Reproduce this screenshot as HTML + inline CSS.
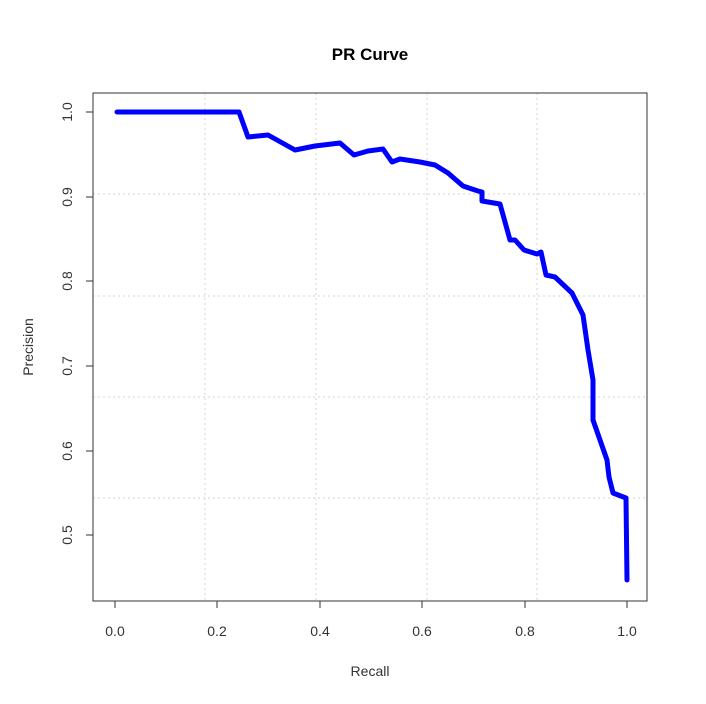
<!DOCTYPE html>
<html><head><style>body{margin:0;background:#fff}</style></head><body>
<svg width="706" height="699" xmlns="http://www.w3.org/2000/svg" font-family="Liberation Sans, sans-serif">
<rect width="706" height="699" fill="#fff"/>
<g stroke="#d3d3d3" stroke-dasharray="2,3" stroke-width="1">
<line x1="205" y1="93" x2="205" y2="601"/><line x1="316" y1="93" x2="316" y2="601"/>
<line x1="427" y1="93" x2="427" y2="601"/><line x1="537" y1="93" x2="537" y2="601"/>
<line x1="93" y1="194" x2="647" y2="194"/><line x1="93" y1="296" x2="647" y2="296"/>
<line x1="93" y1="397" x2="647" y2="397"/><line x1="93" y1="498" x2="647" y2="498"/>
</g>
<rect x="93" y="93" width="554" height="508" fill="none" stroke="#333" stroke-width="1"/>
<g stroke="#333">
<line x1="115" y1="601" x2="115" y2="608"/><line x1="217" y1="601" x2="217" y2="608"/>
<line x1="320" y1="601" x2="320" y2="608"/><line x1="422" y1="601" x2="422" y2="608"/>
<line x1="525" y1="601" x2="525" y2="608"/><line x1="627" y1="601" x2="627" y2="608"/>
<line x1="86" y1="112" x2="93" y2="112"/><line x1="86" y1="197" x2="93" y2="197"/>
<line x1="86" y1="281" x2="93" y2="281"/><line x1="86" y1="366" x2="93" y2="366"/>
<line x1="86" y1="451" x2="93" y2="451"/><line x1="86" y1="535" x2="93" y2="535"/>
</g>
<g font-size="14" fill="#333" text-anchor="middle">
<text x="115" y="636">0.0</text><text x="217" y="636">0.2</text><text x="320" y="636">0.4</text>
<text x="422" y="636">0.6</text><text x="525" y="636">0.8</text><text x="627" y="636">1.0</text>
<text transform="translate(72,112) rotate(-90)">1.0</text>
<text transform="translate(72,197) rotate(-90)">0.9</text>
<text transform="translate(72,281) rotate(-90)">0.8</text>
<text transform="translate(72,366) rotate(-90)">0.7</text>
<text transform="translate(72,451) rotate(-90)">0.6</text>
<text transform="translate(72,535) rotate(-90)">0.5</text>
<text x="370" y="676">Recall</text>
<text transform="translate(33,347) rotate(-90)">Precision</text>
</g>
<text x="370" y="60" font-size="17" font-weight="bold" text-anchor="middle" fill="#000">PR Curve</text>
<polyline fill="none" stroke="#0000ff" stroke-width="5" stroke-linejoin="round" stroke-linecap="round"
points="117,112 239,112 248,137 268,135 295,150 315,146 340,143 354,155 368,151 383,149 392,162 400,159 420,162 435,165 448,173 463,186 478,191 482,192 482,201 500,204 510,240 515,240 524,250 537,254 541,252 546,275 555,277 572,293 583,315 588,350 593,380 593,420 600,440 607,460 609,477 613,493 626,498 627,580"/>
</svg>
</body></html>
